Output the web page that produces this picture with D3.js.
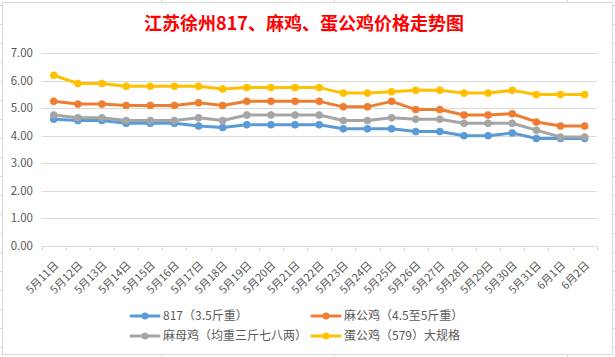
<!DOCTYPE html>
<html><head><meta charset="utf-8">
<script src="https://cdn.jsdelivr.net/npm/d3@7/dist/d3.min.js"></script>
<style>
html,body{margin:0;padding:0;background:#fff;}
svg{display:block;}
text{font-family:"Noto Sans CJK SC","Noto Sans",sans-serif;}
</style></head>
<body>
<svg id="chart" width="615" height="357"></svg>
<script>
const title = "江苏徐州817、麻鸡、蛋公鸡价格走势图";
const categories = ["5月11日","5月12日","5月13日","5月14日","5月15日","5月16日","5月17日","5月18日","5月19日","5月20日","5月21日","5月22日","5月23日","5月24日","5月25日","5月26日","5月27日","5月28日","5月29日","5月30日","5月31日","6月1日","6月2日"];
const seriesNames = ["817（3.5斤重）","麻公鸡（4.5至5斤重）","麻母鸡（均重三斤七八两）","蛋公鸡（579）大规格"];
const s817   = [4.60,4.55,4.55,4.45,4.45,4.45,4.35,4.30,4.40,4.40,4.40,4.40,4.25,4.25,4.25,4.15,4.15,4.00,4.00,4.10,3.90,3.90,3.90];
const sMaGong= [5.25,5.15,5.15,5.10,5.10,5.10,5.20,5.10,5.25,5.25,5.25,5.25,5.05,5.05,5.25,4.95,4.95,4.75,4.75,4.80,4.50,4.35,4.35];
const sMaMu  = [4.75,4.65,4.65,4.55,4.55,4.55,4.65,4.55,4.75,4.75,4.75,4.75,4.55,4.55,4.65,4.60,4.60,4.45,4.45,4.45,4.20,3.95,3.95];
const sDan   = [6.20,5.90,5.90,5.80,5.80,5.80,5.80,5.70,5.75,5.75,5.75,5.75,5.55,5.55,5.60,5.65,5.65,5.55,5.55,5.65,5.50,5.50,5.50];
const yTicks = [0,1,2,3,4,5,6,7];
const colors = ["#5B9BD5","#ED7D31","#A5A5A5","#FFC000"];

const series = [s817, sMaGong, sMaMu, sDan];
const svg = d3.select("#chart");

// spreadsheet cell lines outside the chart
const outer = svg.append("g").attr("stroke","#d4d4d4").attr("stroke-width",1);
[161,334,567].forEach(x=>{
  outer.append("line").attr("x1",x+0.5).attr("x2",x+0.5).attr("y1",0).attr("y2",2);
  outer.append("line").attr("x1",x+0.5).attr("x2",x+0.5).attr("y1",355).attr("y2",357);
});
for(let y=5;y<357;y+=19){
  outer.append("line").attr("x1",0).attr("x2",2).attr("y1",y+0.5).attr("y2",y+0.5);
  outer.append("line").attr("x1",613).attr("x2",615).attr("y1",y+0.5).attr("y2",y+0.5);
}

// chart frame
svg.append("rect").attr("x",2.5).attr("y",2.5).attr("width",610).attr("height",352)
  .attr("fill","#fff").attr("stroke","#d9d9d9");

// title
svg.append("text").attr("x",304).attr("y",30).attr("text-anchor","middle")
  .attr("font-size",18).attr("font-weight","bold").attr("fill","#FF0000").text(title);

const x = d3.scaleBand().domain(categories).range([41.7,596.7]).paddingInner(0).paddingOuter(0);
const y = d3.scaleLinear().domain([0,7]).range([245.5,53.3]);

// gridlines
const grid = svg.append("g");
grid.selectAll("line").data(yTicks.filter(d=>d>0)).join("line")
  .attr("x1",41.7).attr("x2",596.7)
  .attr("y1",d=>Math.round(y(d))+0.5).attr("y2",d=>Math.round(y(d))+0.5)
  .attr("stroke","#d9d9d9").attr("stroke-width",1);

// y axis labels
const yAxis = d3.axisLeft(y).tickValues(yTicks).tickFormat(d3.format(".2f")).tickSize(0).tickPadding(0);
const yg = svg.append("g").attr("transform","translate(33,0)").call(yAxis);
yg.select(".domain").remove();
yg.selectAll("text").attr("font-size",11.5).attr("fill","#595959").attr("font-family","'Noto Sans CJK SC',sans-serif");

// x axis
const xg = svg.append("g").attr("transform",`translate(0,${Math.round(y(0))+0.5})`)
  .call(d3.axisBottom(x).tickSize(0).tickFormat(""));
xg.select(".domain").attr("stroke","#d9d9d9").attr("d",`M41.7,0H596.7`);
xg.selectAll(".tick").remove();
const bounds = categories.map(c=>x(c)).concat([x(categories[categories.length-1])+x.bandwidth()]);
svg.append("g").selectAll("line").data(bounds).join("line")
  .attr("x1",d=>Math.round(d)+0.5).attr("x2",d=>Math.round(d)+0.5)
  .attr("y1",Math.round(y(0))).attr("y2",Math.round(y(0))+5)
  .attr("stroke","#d9d9d9");

svg.append("g").selectAll("text").data(categories).join("text")
  .attr("transform",d=>`translate(${x(d)+x.bandwidth()/2},${y(0)+15}) rotate(-45)`)
  .attr("text-anchor","end").attr("dy","0.7em")
  .attr("font-size",11).attr("fill","#595959").text(d=>d);

// series
const line = d3.line().x((d,i)=>x(categories[i])+x.bandwidth()/2).y(d=>y(d));
series.forEach((s,si)=>{
  const g = svg.append("g");
  g.append("path").datum(s).attr("d",line).attr("fill","none")
    .attr("stroke",colors[si]).attr("stroke-width",3).attr("stroke-linejoin","round").attr("stroke-linecap","round");
  g.selectAll("circle").data(s).join("circle")
    .attr("cx",(d,i)=>x(categories[i])+x.bandwidth()/2).attr("cy",d=>y(d)).attr("r",3.5)
    .attr("fill",colors[si]).attr("stroke",colors[si]).attr("stroke-width",0.75);
});

// legend
const legPos = [[131,316],[312,316],[131,336],[312,336]];
seriesNames.forEach((n,i)=>{
  const [lx,ly] = legPos[i];
  const g = svg.append("g").attr("transform",`translate(${lx},${ly})`);
  g.append("line").attr("x1",0).attr("x2",28).attr("y1",0).attr("y2",0)
    .attr("stroke",colors[i]).attr("stroke-width",3).attr("stroke-linecap","round");
  g.append("circle").attr("cx",14).attr("cy",0).attr("r",3.5).attr("fill",colors[i]);
  g.append("text").attr("x",32).attr("y",0).attr("dy","0.36em")
    .attr("font-size",12).attr("fill","#595959").text(n);
});
</script>
</body></html>
